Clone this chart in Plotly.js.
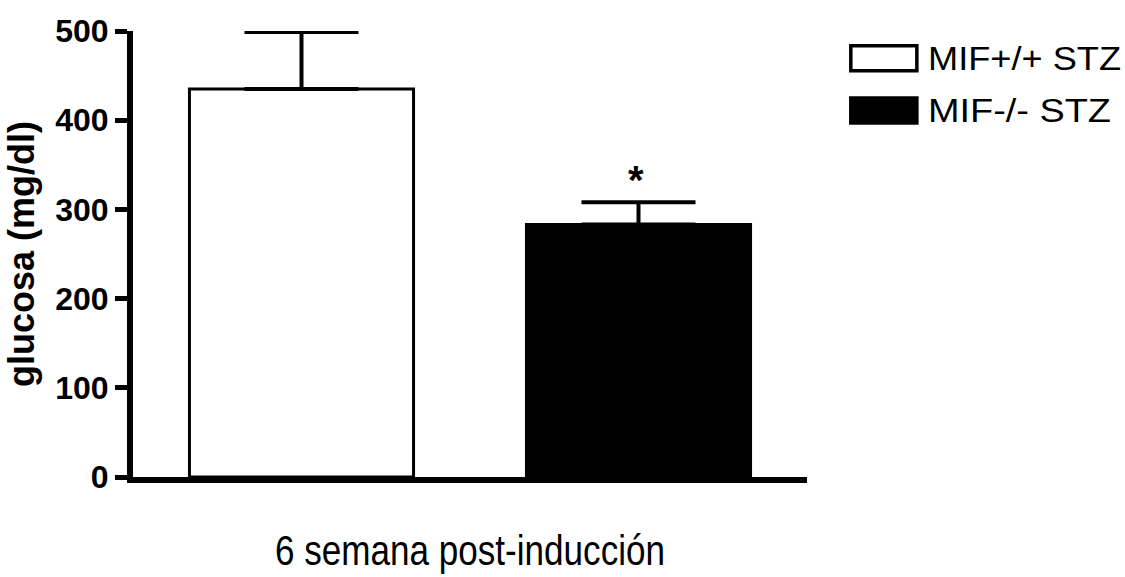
<!DOCTYPE html>
<html>
<head>
<meta charset="utf-8">
<script src="https://cdn.plot.ly/plotly-3.0.1.min.js"></script>
<style>html,body{margin:0;padding:0;background:#fff;}#chart{width:1125px;height:577px;}</style>
</head>
<body>
<div id="chart"></div>
<script>
// Data
const categories = ["MIF+/+ STZ", "MIF-/- STZ"];
const seriesNames = ["MIF+/+ STZ", "MIF-/- STZ"];
const glucoseMeans = [435, 283];
const glucoseErrors = [64, 25];
const significance = ["", "*"];
const yTicks = [0, 100, 200, 300, 400, 500];
const xTitle = "6 semana post-inducción";
const yTitle = "glucosa (mg/dl)";

const fills = ["#ffffff", "#000000"];
const FONT = "Liberation Sans, Arial, sans-serif";

const traces = categories.map((c, i) => ({
  type: "bar",
  name: seriesNames[i],
  x: [c],
  y: [glucoseMeans[i]],
  width: 0.665,
  marker: { color: fills[i], line: { color: "#000", width: 3 } },
  error_y: {
    type: "data", symmetric: false,
    array: [glucoseErrors[i]], arrayminus: [0],
    color: "#000", thickness: 4, width: 57
  },
  showlegend: false,
  hoverinfo: "skip"
}));

const annotations = [];
categories.forEach((c, i) => {
  if (significance[i]) {
    annotations.push({
      x: c, y: glucoseMeans[i] + glucoseErrors[i], xref: "x", yref: "y",
      text: "<b>" + significance[i] + "</b>", showarrow: false,
      yanchor: "bottom", yshift: -2, xshift: -3,
      font: { family: FONT, size: 40, color: "#000" }
    });
  }
});

// custom legend (large swatches as in reference)
const shapes = [];
const legendY = [0.939, 0.822];
seriesNames.forEach((n, i) => {
  shapes.push({
    type: "rect", xref: "paper", yref: "paper",
    x0: 1.065, x1: 1.163, y0: legendY[i] - 0.028, y1: legendY[i] + 0.028,
    fillcolor: fills[i], line: { color: "#000", width: 3.5 }
  });
  annotations.push({
    x: 1.176, y: legendY[i], xref: "paper", yref: "paper",
    xanchor: "left", yanchor: "middle", showarrow: false, text: n,
    font: { family: FONT, size: 33, color: "#000" }
  });
});

const layout = {
  width: 1125, height: 577,
  margin: { l: 133, r: 318, t: 31, b: 100, pad: 0 },
  paper_bgcolor: "#fff", plot_bgcolor: "#fff",
  barmode: "overlay",
  showlegend: false,
  xaxis: {
    type: "category", categoryarray: categories, range: [-0.5, 1.5],
    showticklabels: false, ticks: "",
    showline: true, linecolor: "#000", linewidth: 6,
    showgrid: false, zeroline: false,
    title: { text: xTitle, font: { family: FONT, size: 42, color: "#000" }, standoff: 56 }
  },
  yaxis: {
    range: [0, 500], tickvals: yTicks, ticktext: yTicks.map(String),
    ticks: "outside", ticklen: 12, tickwidth: 5, tickcolor: "#000",
    showline: true, linecolor: "#000", linewidth: 6,
    showgrid: false, zeroline: false,
    tickfont: { family: FONT, size: 32, color: "#000", weight: "bold" },
    title: { text: "<b>" + yTitle + "</b>", font: { family: FONT, size: 36, color: "#000" }, standoff: 12 }
  },
  shapes: shapes,
  annotations: annotations
};

const legendTextLen = [193, 183];

Plotly.newPlot("chart", traces, layout, { displayModeBar: false, staticPlot: true }).then(() => {
  // reference glyphs are horizontally condensed (title) / stretched (legend)
  const xt = document.querySelector(".g-xtitle text");
  if (xt) { xt.setAttribute("textLength", "390"); xt.setAttribute("lengthAdjust", "spacingAndGlyphs"); }
  document.querySelectorAll(".annotation-text").forEach(t => {
    const k = seriesNames.indexOf(t.textContent);
    if (k >= 0) {
      const bb = t.getBBox();
      t.setAttribute("text-anchor", "start");
      t.setAttribute("x", bb.x);
      t.setAttribute("textLength", String(legendTextLen[k]));
      t.setAttribute("lengthAdjust", "spacingAndGlyphs");
    }
  });
});
</script>
</body>
</html>
